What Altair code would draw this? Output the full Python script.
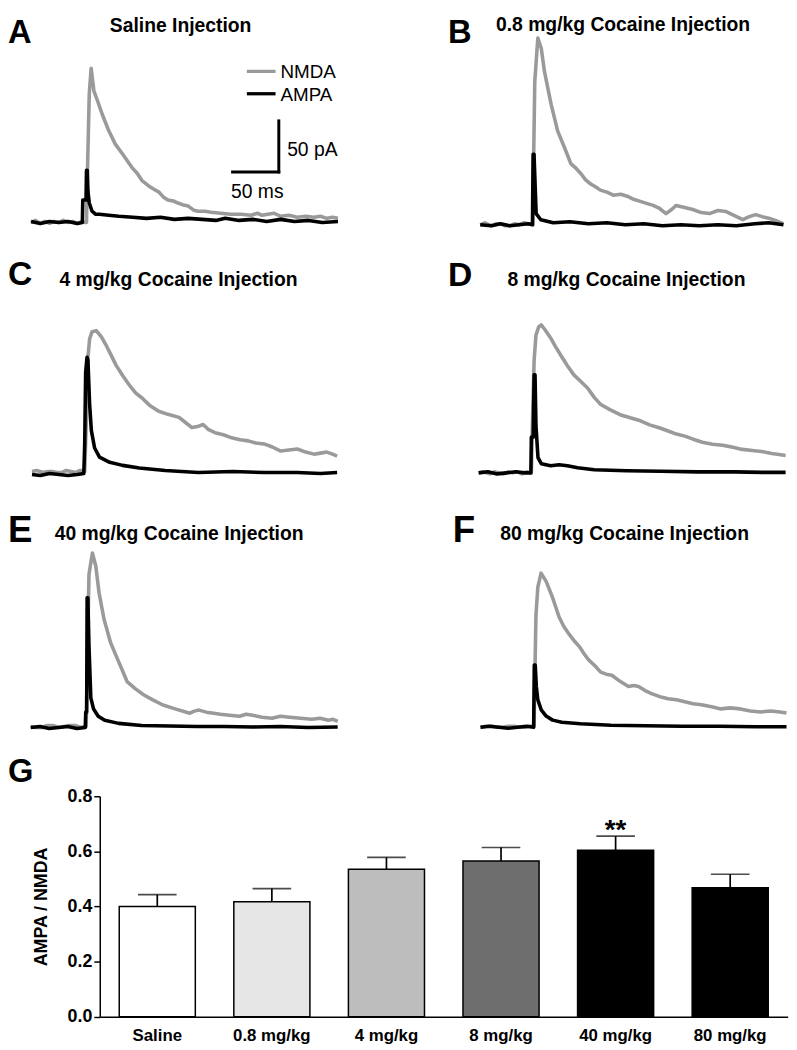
import altair as alt
import pandas as pd

# ---------------- trace data (time in ms from stimulus, current in pA, inward shown upward) -------------
A_nmda_t = [-60, -55, -50, -45, -40, -35, -30, -25, -20, -15, -10, -5, -2, 0, 1, 3, 5, 8, 12, 17, 24, 31, 39, 49, 55, 60, 67, 72, 78, 83, 88, 94, 99, 105, 110, 116, 121, 128, 135, 145, 156, 167, 178, 185, 190, 196, 203, 210, 219, 228, 237, 246, 253, 260, 266, 272]
A_nmda = [0, 2, -1, 1, -1, 1, 0, 2, 0, 1, -1, 1, 0, 0, 48, 126, 151, 129, 119, 106, 90, 77, 67, 54, 48, 41, 36, 33, 30, 25, 22, 21, 19, 17, 16, 12, 11, 11, 10, 9, 8, 8, 7, 9, 7, 8, 9, 6, 7, 5, 6, 5, 6, 4, 5, 4]
A_ampa_t = [-60, -50, -40, -30, -20, -10, -4.5, -4, -0.5, 0, 0.8, 1.6, 3, 6, 10, 14, 24, 35, 50, 65, 80, 95, 110, 125, 140, 150, 165, 180, 195, 210, 225, 240, 255, 272]
A_ampa = [1, -1, 1, 0, 1, -1, 0, 22, 22, 51, 51, 30, 19, 11, 8, 8, 7, 6, 5, 4, 5, 3, 4, 3, 2, 4, 2, 3, 1, 3, 1, 2, 0, 1]

B_nmda_t = [-57, -52, -45, -40, -35, -30, -25, -20, -15, -10, -5, 0, 0.7, 2, 5.3, 9, 12.5, 19.7, 26.7, 34, 41, 47, 52, 57, 62.5, 68, 73, 80, 87, 95, 102, 109, 116, 123, 130, 137, 144, 150, 155, 164, 173, 182, 191, 200, 209, 218, 227, 234, 241, 248, 255, 263, 271]
B_nmda = [0, 2, -1, 1, 1, -1, -1, 1, 0, 2, 1, 0, 60, 140, 183, 173, 150, 118, 92, 76, 60, 55, 50, 44, 40, 37, 34, 32, 29, 30, 28, 25, 23, 21, 19, 16, 11, 15, 19, 17, 15, 12, 11, 14, 13, 9, 5, 8, 10, 8, 6.5, 4, 1]
B_ampa_t = [-57, -45, -35, -25, -15, -5, -0.5, 0.2, 1.2, 3.5, 8.5, 22, 40, 60, 80, 100, 120, 140, 160, 180, 200, 220, 240, 255, 271]
B_ampa = [0, -1, 1, -1, 0, 1, 0, 69, 69, 11, 5, 2, 3, 1, 2, 0, 1, -1, 0, -1, 0, -1, 1, 2, 0]

C_nmda_t = [-57, -52, -45, -40, -35, -30, -25, -20, -15, -10, -5, 0, 2, 3.5, 5.3, 8, 12.5, 18, 23, 28, 34, 41, 48, 55, 62, 70, 80, 90, 102, 109, 116, 122, 128, 134, 141, 150, 159, 168, 177, 185, 194, 203, 212, 221, 230, 239, 248, 255, 262, 268, 273]
C_nmda = [3, 4, 2, 3, 3, 2, 2, 4, 3, 2, 4, 3, 60, 115, 133, 140, 141, 135, 127, 118, 107, 97, 88, 80, 75, 68, 62, 59, 56, 51, 46, 47, 49, 44, 41, 39, 36, 34, 33, 31, 30, 27, 23, 24, 25, 22, 20, 21, 22, 20, 18]
C_ampa_t = [-57, -48, -38, -28, -18, -8, -1, 0, 1, 2.5, 3.5, 5.3, 7.2, 10.7, 16, 27, 41, 59, 87, 123, 160, 194, 230, 255, 273]
C_ampa = [0, -1, 1, 0, -1, 0, 1, 30, 100, 115, 112, 69, 43, 26, 17, 12, 9, 6.5, 4, 2, 3, 2, 2, 1, 2]

D_nmda_t = [-57, -52, -45, -40, -35, -30, -25, -20, -15, -10, -5, 0, 1.5, 3, 5, 8, 10.7, 15, 21, 26, 32, 39, 46, 53, 61, 68, 75, 85, 96, 107, 118, 128, 139, 148, 157, 166, 175, 185, 196, 207, 218, 228, 239, 249, 260, 268, 275]
D_nmda = [0, 1, -1, 1, 0, -1, 1, 0, 1, -1, 1, 0, 60, 110, 135, 143, 145, 140, 132, 124, 115, 105, 96, 90, 83, 74, 67, 62, 57, 54, 51, 47, 44, 41, 38, 36, 33, 30, 28, 27, 25, 23, 22, 21, 19, 18, 17]
D_ampa_t = [-57, -47, -37, -27, -17, -7, -0.5, 0, 2, 3, 4, 5, 7.2, 10.7, 21, 30, 39, 50, 68, 103, 140, 180, 220, 250, 275]
D_ampa = [0, 1, -1, 0, 1, 0, 0, 35, 35, 96, 96, 46, 15, 9, 7, 8, 7, 5, 3, 2, 1.5, 1, 1, 0.5, 0.5]

E_nmda_t = [-60, -55, -48, -42, -36, -30, -24, -18, -12, -6, -2, 0, 1.5, 3, 6.7, 10.4, 13.9, 19.3, 26.4, 35.3, 44.2, 53, 62, 72, 83, 97, 112, 117, 122, 130, 138, 145, 155, 166, 173, 180, 190, 201, 210, 220, 232, 244, 253, 262, 267, 272]
E_nmda = [1, 0, 0, 2, 2, 0, 1, 2, 2, 0, 1, 1, 80, 150, 171, 158, 132, 106, 83, 64, 45, 38, 32, 27, 22, 18, 14, 16, 17, 15, 14, 13, 12, 11, 13, 12, 10, 9, 11, 10, 9, 8, 9, 7, 8, 6]
E_ampa_t = [-60, -50, -40, -30, -20, -10, -1, -0.5, 0.5, 1, 1.8, 3, 5, 8, 13, 20, 35, 60, 90, 120, 150, 180, 210, 240, 272]
E_ampa = [0, 1, -1, 0, 1, -1, 0, 15, 15, 127, 127, 80, 29, 18, 11, 7, 4, 2, 1.5, 1, 1, 0.5, 1, 0, 0.5]

F_nmda_t = [-58, -52, -46, -40, -34, -28, -22, -16, -10, -5, -1, 0, 1, 2, 4, 7.5, 13, 20, 27, 32, 38, 44, 49, 54, 59, 66, 72, 78, 84, 93, 102, 108, 113, 120, 127, 136, 145, 154, 163, 172, 181, 192, 202, 212, 223, 234, 245, 256, 266, 273]
F_nmda = [0, 1, 1, 0, 0, 1, 1, 0, 0, 1, 1, 1, 60, 110, 137, 151, 143, 127, 108, 99, 91, 84, 79, 72, 66, 60, 54, 52, 51, 45, 40, 41, 40, 36, 33, 30, 28, 27, 25, 23, 22, 20, 18, 19, 18, 16, 15, 16, 15, 14]
F_ampa_t = [-58, -48, -38, -28, -18, -8, -0.5, 0.2, 1.2, 2.4, 4, 7.7, 13, 20, 30, 50, 83, 120, 160, 200, 240, 273]
F_ampa = [0, 1, 0, -1, 0, 1, 0, 61, 61, 40, 27, 17, 11, 7, 5, 3.5, 2, 1.5, 1, 1, 0.5, 0.5]

# scale bar (panel A): 50 ms x 50 pA, corner position in data units
SB_T0 = 158.0
SB_V0 = 49.5
SB_MS = 50
SB_PA = 50

# ---------------- bar chart data ----------------
bar_groups = ["Saline", "0.8 mg/kg", "4 mg/kg", "8 mg/kg", "40 mg/kg", "80 mg/kg"]
bar_means = [0.400, 0.417, 0.535, 0.565, 0.604, 0.468]
bar_sem = [0.043, 0.048, 0.043, 0.049, 0.051, 0.049]
bar_fill = ["#ffffff", "#e6e6e6", "#bdbdbd", "#6e6e6e", "#000000", "#000000"]
bar_sig = ["", "", "", "", "**", ""]

# ---------------- style / layout ----------------
PX_MS = 0.934   # pixels per ms
PX_PA = 1.031   # pixels per pA
GRAY = "#9a9a9a"
FONT = "Liberation Sans, Arial, Helvetica, sans-serif"
LW = 3.6
ROW_W = 789      # each row spans the full figure width
OX = 8           # reference x of the rows' left edge


def text_layer(s, x, y, size, bold=True):
    return alt.Chart(pd.DataFrame({"s": [s]})).mark_text(
        align="left", baseline="alphabetic", font=FONT, fontSize=size,
        fontWeight="bold" if bold else "normal", color="black"
    ).encode(text="s:N", x=alt.value(x), y=alt.value(y))


def rule_layer(x1, x2, y, color):
    return alt.Chart(pd.DataFrame({"k": [0]})).mark_rule(
        color=color, strokeWidth=3.3
    ).encode(x=alt.value(x1), x2=alt.value(x2), y=alt.value(y))


def panel(tn, vn, ta, va, oy, h, sx, by, texts, with_extras=False):
    # scales map ms / pA onto the whole row; sx, by = stimulus x and baseline y of this trace pair
    xs = alt.Scale(domain=[(OX - sx) / PX_MS, (OX + ROW_W - sx) / PX_MS], nice=False, zero=False)
    ys = alt.Scale(domain=[(by - (oy + h)) / PX_PA, (by - oy) / PX_PA], nice=False, zero=False)
    nm = alt.Chart(pd.DataFrame({"t": tn, "v": vn})).mark_line(
        color=GRAY, strokeWidth=LW, strokeJoin="round"
    ).encode(x=alt.X("t:Q", scale=xs, axis=None), y=alt.Y("v:Q", scale=ys, axis=None))
    am = alt.Chart(pd.DataFrame({"t": ta, "v": va})).mark_line(
        color="black", strokeWidth=LW, strokeJoin="round"
    ).encode(x=alt.X("t:Q", scale=xs, axis=None), y=alt.Y("v:Q", scale=ys, axis=None))
    layers = [nm, am]
    if with_extras:
        sb = alt.Chart(pd.DataFrame({"t0": [SB_T0], "t1": [SB_T0 + SB_MS],
                                     "v0": [SB_V0], "v1": [SB_V0 + SB_PA]}))
        hbar = sb.mark_rule(color="black", strokeWidth=3, strokeCap="square").encode(
            x=alt.X("t0:Q", scale=xs, axis=None), x2="t1:Q",
            y=alt.Y("v0:Q", scale=ys, axis=None))
        vbar = sb.mark_rule(color="black", strokeWidth=3, strokeCap="square").encode(
            x=alt.X("t1:Q", scale=xs, axis=None),
            y=alt.Y("v0:Q", scale=ys, axis=None), y2="v1:Q")
        layers += [hbar, vbar,
                   text_layer("50 pA", 282, 143.7, 19.5, bold=False),
                   text_layer("50 ms", 225.3, 187, 19.5, bold=False),
                   rule_layer(241.3, 270.3, 58.7, GRAY),
                   text_layer("NMDA", 275.3, 65.3, 19, bold=False),
                   rule_layer(241.3, 270.3, 81.3, "black"),
                   text_layer("AMPA", 275.3, 88.7, 19, bold=False)]
    for (s, x, y, size) in texts:
        layers.append(text_layer(s, x, y, size))
    return alt.layer(*layers)


def row(left, right, h):
    return alt.layer(left, right).resolve_scale(x="independent", y="independent").properties(
        width=ROW_W, height=h)


pA = panel(A_nmda_t, A_nmda, A_ampa_t, A_ampa, 8, 242, 87.3, 219.3,
           [("A", 0, 30, 33), ("Saline Injection", 102.9, 18.7, 19.5)], with_extras=True)
pB = panel(B_nmda_t, B_nmda, B_ampa_t, B_ampa, 8, 242, 538.3, 221.7,
           [("B", 444.6, 30, 33), ("0.8 mg/kg Cocaine Injection", 493, 17.8, 19.5)])
pC = panel(C_nmda_t, C_nmda, C_ampa_t, C_ampa, 250, 250, 85.5, 474,
           [("C", 0, 33, 34), ("4 mg/kg Cocaine Injection", 52, 33.3, 19.5)])
pD = panel(D_nmda_t, D_nmda, D_ampa_t, D_ampa, 250, 250, 536.7, 472.3,
           [("D", 444.6, 34, 34), ("8 mg/kg Cocaine Injection", 504.5, 33.3, 19.5)])
pE = panel(E_nmda_t, E_nmda, E_ampa_t, E_ampa, 500, 299, 87, 729.5,
           [("E", 0, 42.5, 37), ("40 mg/kg Cocaine Injection", 47.2, 40, 19.5)])
pF = panel(F_nmda_t, F_nmda, F_ampa_t, F_ampa, 500, 299, 539.5, 729.3,
           [("F", 449.3, 41.7, 37), ("80 mg/kg Cocaine Injection", 497.2, 40, 19.5)])

# ---------------- bar chart ----------------
bar_df = pd.DataFrame({
    "group": bar_groups,
    "mean": bar_means,
    "hi": [m + s for m, s in zip(bar_means, bar_sem)],
    "sig": bar_sig,
})

PLOT_LEFT = 92.7
x_axis = alt.Axis(title=None, labelAngle=0, labelFont=FONT, labelFontSize=17, labelFontWeight="bold",
                  labelColor="black", labelBaseline="alphabetic", labelPadding=24,
                  ticks=False, tickSize=0, domainColor="black", domainWidth=1.5, grid=False)
y_axis = alt.Axis(title="AMPA / NMDA", titleFont=FONT, titleFontSize=18, titleFontWeight="bold",
                  titleColor="black", titlePadding=17, values=[0, 0.2, 0.4, 0.6, 0.8], format=".1f",
                  labelFont=FONT, labelFontSize=18, labelFontWeight="bold", labelColor="black",
                  labelPadding=2, tickSize=6, tickColor="black", tickWidth=1.5,
                  domainColor="black", domainWidth=1.5, grid=False, offset=-PLOT_LEFT)
x_enc = alt.X("group:N", sort=bar_groups, axis=x_axis,
              scale=alt.Scale(range=[PLOT_LEFT, ROW_W - 1.3], paddingInner=0.336, paddingOuter=0.17))
y_scale = alt.Scale(domain=[0, 0.8], nice=False, zero=True)

bars = alt.Chart(bar_df).mark_bar(stroke="black", strokeWidth=1.5).encode(
    x=x_enc,
    y=alt.Y("mean:Q", scale=y_scale, axis=y_axis),
    fill=alt.Fill("group:N", scale=alt.Scale(domain=bar_groups, range=bar_fill), legend=None),
)
err = alt.Chart(bar_df).mark_rule(color="black", strokeWidth=1.7).encode(
    x=x_enc, y=alt.Y("mean:Q", scale=y_scale, axis=y_axis), y2="hi:Q")
caps = alt.Chart(bar_df).mark_tick(color="black", thickness=1.7, size=39).encode(
    x=x_enc, y=alt.Y("hi:Q", scale=y_scale, axis=y_axis))
stars = alt.Chart(bar_df).transform_filter("datum.sig != ''").mark_text(
    font=FONT, fontSize=28, fontWeight="bold", color="black", baseline="alphabetic", dy=3
).encode(x=x_enc, y=alt.Y("hi:Q", scale=y_scale, axis=y_axis), text="sig:N")

bar_chart = alt.layer(bars, err, caps, stars, text_layer("G", 0, -14.5, 33)).properties(
    width=ROW_W, height=222.7)

chart = alt.vconcat(
    row(pA, pB, 242), row(pC, pD, 250), row(pE, pF, 299), bar_chart,
    spacing=0, bounds="flush", background="white", padding=0,
).configure_view(stroke="transparent", strokeWidth=0)

chart.save("out.html", embed_options={"renderer": "svg", "actions": False})
